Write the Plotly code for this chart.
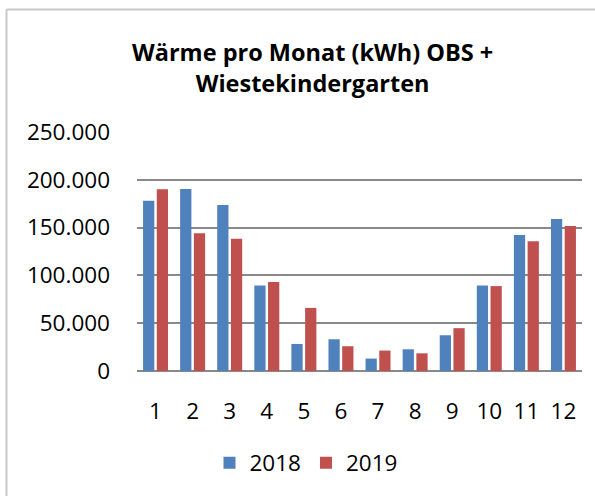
import plotly.graph_objects as go

months = ["1", "2", "3", "4", "5", "6", "7", "8", "9", "10", "11", "12"]
series_names = ["2018", "2019"]
values_2018 = [178000, 190500, 173700, 89500, 28300, 33200, 13000, 22700, 37400, 89500, 142200, 159000]
values_2019 = [190100, 144000, 138400, 93000, 66000, 25900, 21400, 18500, 44800, 88800, 135600, 151700]
y_tickvals = [0, 50000, 100000, 150000, 200000, 250000]
y_ticktext = ["0", "50.000", "100.000", "150.000", "200.000", "250.000"]
title_text = "Wärme pro Monat (kWh) OBS +<br>Wiestekindergarten"

W, H = 595, 496
L, R, T, B = 137, 13, 132, 125
pw, ph = W - L - R, H - T - B

def px_x(x):
    return (x - L) / pw

def px_y(y):
    return (H - B - y) / ph

FONT = "Open Sans"
TICK = 22.5

fig = go.Figure()
fig.add_trace(go.Bar(x=months, y=values_2018, name=series_names[0],
                     marker=dict(color="#4F81BD", line=dict(width=0))))
fig.add_trace(go.Bar(x=months, y=values_2019, name=series_names[1],
                     marker=dict(color="#C0504D", line=dict(width=0))))

fig.update_layout(
    width=W, height=H,
    margin=dict(l=L, r=R, t=T, b=B, pad=0),
    paper_bgcolor="white", plot_bgcolor="white",
    barmode="group", bargap=0.26, bargroupgap=0.18,
    font=dict(family=FONT, size=TICK, color="#000000"),
    showlegend=True,
    legend=dict(orientation="h", x=px_x(306), xanchor="center",
                y=px_y(463), yanchor="middle",
                font=dict(family=FONT, size=TICK, color="#000000"),
                itemsizing="constant", tracegroupgap=0, itemwidth=30),
    xaxis=dict(type="category", showgrid=False, showline=False, ticks="",
               tickfont=dict(family=FONT, size=TICK, color="#000000"),
               ticklabelstandoff=24, fixedrange=True),
    yaxis=dict(range=[0, 250000], tickvals=y_tickvals, ticktext=y_ticktext,
               showgrid=True, gridcolor="#898989", gridwidth=2,
               zeroline=True, zerolinecolor="#898989", zerolinewidth=2,
               showline=False, ticks="",
               tickfont=dict(family=FONT, size=TICK, color="#000000"),
               ticklabelstandoff=26, fixedrange=True),
    annotations=[dict(text="<b>" + title_text.replace("<br>", "</b><br><b>") + "</b>",
                      xref="paper", yref="paper",
                      x=px_x(312), y=px_y(67), xanchor="center", yanchor="middle",
                      showarrow=False, align="center",
                      font=dict(family=FONT, size=23.5, color="#000000"))],
    shapes=[
        dict(type="line", xref="paper", yref="paper",
             x0=px_x(6.5), x1=px_x(6.5), y0=px_y(9.5), y1=px_y(H),
             line=dict(color="#C8C8C8", width=2)),
        dict(type="line", xref="paper", yref="paper",
             x0=px_x(6.5), x1=px_x(W), y0=px_y(9.5), y1=px_y(9.5),
             line=dict(color="#C8C8C8", width=2)),
    ],
)

fig.write_html("out.html", include_plotlyjs=True,
               config={"displayModeBar": False},
               post_script="document.body.style.margin='0px';document.body.style.overflow='hidden';")
